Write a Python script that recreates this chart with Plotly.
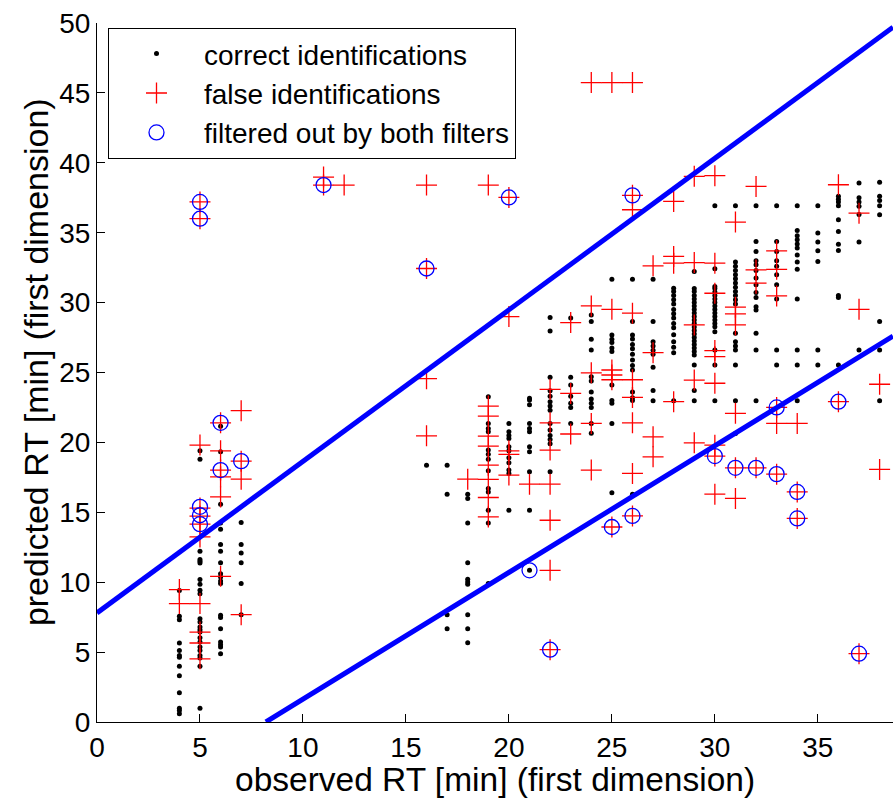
import plotly.graph_objects as go

# ---------------- data ----------------
# correct identifications: observed RT column -> predicted RT values
correct_cols = {
    4: [0.59, 0.82, 0.99, 2.09, 3.31, 3.98, 4.64, 4.76, 5.12, 5.65, 7.32, 7.56, 9.4],
    5: [0.99, 3.98, 4.57, 4.76, 5.12, 5.36, 5.72, 6.03, 6.43, 6.6, 6.79, 7.15, 7.39,
        9.18, 9.42, 9.85, 10.19, 11.38, 11.5, 11.62, 12.21, 18.8, 19.4],
    6: [4.88, 5.36, 5.53, 5.72, 6.67, 7.47, 7.63, 9.91, 10.09, 10.37, 10.61, 11.4,
        12.21, 12.69, 13.79, 14.24, 15.58, 19.33, 21.15],
    7: [7.68, 9.9, 11.4, 12.09, 12.69, 14.27],
    16: [18.37],
    17: [6.67, 7.68, 16.3, 18.37],
    18: [5.67, 6.67, 7.68, 9.85, 10.02, 10.21, 11.4, 14.24, 15.99, 16.3],
    19: [9.9, 14.24, 15.15, 16.46, 16.7, 17.97, 18.8, 19.16, 19.45, 20.76, 21.0, 21.36, 23.27],
    20: [15.15, 17.78, 18.02, 18.54, 18.9, 19.4, 19.69, 20.28, 20.5, 20.76, 21.36],
    21: [10.85, 15.15, 17.9, 19.33, 19.69, 20.76, 21.0, 21.36, 22.7, 23.03, 23.15],
    22: [17.9, 19.9, 20.2, 20.5, 20.88, 21.36, 22.3, 22.6, 22.9, 23.3, 23.7, 24.66, 27.97, 28.93],
    23: [21.36, 22.5, 22.8, 23.3, 24.1, 24.66, 28.9],
    24: [20.65, 21.36, 22.5, 22.8, 23.1, 23.6, 24.4, 24.7, 26.61, 27.38, 28.64, 29.12],
    25: [16.39, 21.36, 22.8, 23.0, 24.1, 26.5, 26.75, 27.14, 27.38, 27.69, 31.67],
    26: [16.3, 23.0, 23.2, 23.6, 25.18, 25.5, 25.9, 26.3, 26.7, 27.0, 27.4, 27.69, 28.64, 31.67],
    27: [22.98, 23.72, 25.37, 26.3, 26.6, 26.9, 27.2, 28.64, 31.67],
    28: [22.98, 26.42, 26.8, 27.2, 27.7, 28.2, 28.5, 28.9, 29.2, 29.5, 29.9, 30.2, 30.5, 30.8, 31.03],
    29: [22.98, 23.72, 25.54, 26.25, 26.5, 26.75, 27.0, 27.25, 27.5, 27.75, 28.0, 28.25, 28.5,
         28.75, 29.0, 29.25, 29.5, 29.75, 30.0, 30.25, 30.5, 30.8, 31.0, 32.22],
    30: [22.98, 25.54, 26.61, 27.92, 28.28, 28.5, 28.75, 29.0, 29.25, 29.5, 29.75, 30.0,
         30.25, 30.5, 30.75, 31.0, 31.15, 32.43, 36.93],
    31: [20.64, 22.98, 25.54, 26.61, 26.9, 27.2, 27.8, 29.9, 30.2, 30.5, 30.8, 31.1, 31.4,
         31.7, 32.0, 32.3, 32.6, 32.9, 36.93],
    32: [22.98, 26.61, 27.81, 29.47, 29.71, 30.36, 30.72, 31.27, 31.76, 32.3, 32.7, 33.0,
         33.65, 34.37, 36.93],
    33: [25.54, 26.61, 30.25, 31.27, 32.0, 32.6, 33.0, 33.65, 34.37, 36.93],
    34: [22.98, 25.54, 26.61, 30.25, 32.38, 32.9, 33.4, 33.9, 34.2, 34.5, 34.78, 35.16, 36.93],
    35: [25.54, 26.61, 32.94, 33.7, 34.33, 34.97, 36.93],
    36: [25.54, 30.36, 30.5, 33.73, 34.18, 35.09, 35.92, 36.93, 37.2, 37.4, 37.6],
    37: [26.61, 34.33, 36.3, 36.9, 37.2, 37.5, 38.55],
    38: [22.98, 26.61, 28.64, 36.28, 36.93, 37.3, 37.6, 38.6],
}

# false identifications
false_cols = {
    4: [8.47, 9.47],
    5: [4.52, 5.65, 6.43, 8.47, 13.24, 14.15, 14.72, 15.3, 19.81, 36.0, 37.2],
    6: [10.42, 16.1, 17.54, 18.02, 19.4, 21.4],
    7: [7.68, 17.37, 18.66, 22.27],
    11: [38.41, 38.98],
    12: [38.41],
    16: [20.47, 24.56, 32.44, 38.41],
    18: [17.37],
    19: [14.67, 16.06, 17.35, 18.37, 19.73, 20.45, 21.88, 22.6, 38.41],
    20: [17.66, 19.15, 19.4, 29.0, 37.52],
    21: [17.01],
    22: [5.17, 10.85, 14.43, 17.01, 19.45, 21.4, 23.8],
    23: [20.6, 23.5, 28.57],
    24: [18.02, 21.36, 24.98, 29.76, 45.74],
    25: [13.95, 24.48, 24.82, 25.18, 29.52, 45.74],
    26: [14.74, 17.78, 21.4, 23.22, 24.48, 29.24, 36.64, 37.67, 45.74],
    27: [18.97, 20.4, 26.42, 32.63],
    28: [22.91, 32.82, 33.3, 37.24],
    29: [19.97, 24.46, 28.4, 32.86, 39.03],
    30: [16.3, 19.02, 19.8, 24.23, 26.13, 26.57, 30.67, 32.82, 39.08],
    31: [15.99, 18.18, 22.08, 28.4, 29.19, 29.67, 35.76],
    32: [18.18, 31.39, 32.34, 38.31],
    33: [17.73, 21.36, 22.5, 30.48, 32.38, 33.7],
    34: [14.56, 16.46, 21.36],
    36: [22.91, 38.43],
    37: [4.89, 29.52, 36.4],
    38: [18.07, 24.16],
}

# filtered out by both filters
filtered_x = [5, 5, 5, 5, 5, 6, 6, 7, 11, 16, 20, 26, 21, 22, 25, 26,
              30, 31, 32, 33, 33, 34, 34, 36, 37]
filtered_y = [37.2, 36.0, 15.39, 14.79, 14.15, 21.4, 18.02, 18.66, 38.41, 32.44, 37.52, 37.67,
              10.85, 5.17, 13.95, 14.74, 19.02, 18.18, 18.18, 17.73, 22.5, 16.46, 14.56, 22.91, 4.89]

# filter boundary lines
upper_line_x = [0, 38.65]
upper_line_y = [7.8, 49.7]
lower_line_x = [8.2, 38.65]
lower_line_y = [0, 27.6]

x_ticks = [0, 5, 10, 15, 20, 25, 30, 35]
y_ticks = [0, 5, 10, 15, 20, 25, 30, 35, 40, 45, 50]

# ---------------- build ----------------
correct_x = [x for x, ys in correct_cols.items() for _ in ys]
correct_y = [y for ys in correct_cols.values() for y in ys]
false_x = [x for x, ys in false_cols.items() for _ in ys]
false_y = [y for ys in false_cols.values() for y in ys]

FONT = "Liberation Sans, Arial, Helvetica, sans-serif"

fig = go.Figure()
fig.add_trace(go.Scatter(
    x=correct_x, y=correct_y, mode="markers", name="correct identifications",
    legendgroup="a",
    marker=dict(symbol="circle", size=5, color="black", line=dict(width=0)),
))
fig.add_trace(go.Scatter(
    x=false_x, y=false_y, mode="markers", name="false identifications",
    legendgroup="b",
    marker=dict(symbol="cross-thin", size=15, color="red", line=dict(width=1.3, color="red")),
))
fig.add_trace(go.Scatter(
    x=filtered_x, y=filtered_y, mode="markers", name="filtered out by both filters",
    legendgroup="c",
    marker=dict(symbol="circle-open", size=15, color="blue", line=dict(width=1.3, color="blue")),
))
fig.add_trace(go.Scatter(
    x=upper_line_x, y=upper_line_y, mode="lines", showlegend=False,
    line=dict(color="#0000FF", width=5),
))
fig.add_trace(go.Scatter(
    x=lower_line_x, y=lower_line_y, mode="lines", showlegend=False,
    line=dict(color="#0000FF", width=5),
))

axis_common = dict(
    showgrid=False, zeroline=False, showline=True, linecolor="black", linewidth=1,
    ticks="inside", ticklen=8, tickwidth=1, tickcolor="black",
    tickfont=dict(family=FONT, size=28, color="black"),
    mirror=False,
)

fig.update_layout(
    width=893, height=798,
    margin=dict(l=97, r=0, t=23, b=76, pad=0),
    paper_bgcolor="white", plot_bgcolor="white",
    font=dict(family=FONT, color="black"),
    showlegend=True,
    legend=dict(
        x=(108 - 97) / 796, y=0.993, xanchor="left", yanchor="top",
        bgcolor="white", bordercolor="black", borderwidth=1,
        font=dict(family=FONT, size=28, color="black"),
        itemwidth=85, tracegroupgap=0,
    ),
    xaxis=dict(range=[0, 38.65], tickvals=x_ticks, ticktext=[str(v) for v in x_ticks],
               **axis_common),
    yaxis=dict(range=[0, 50], tickvals=y_ticks, ticktext=[str(v) for v in y_ticks],
               **axis_common),
    annotations=[
        dict(text="observed RT [min] (first dimension)", xref="paper", yref="paper",
             x=0.5, y=-0.082, xanchor="center", yanchor="middle", showarrow=False,
             font=dict(family=FONT, size=33.5, color="black")),
        dict(text="predicted RT [min] (first dimension)", xref="paper", yref="paper",
             x=-0.0765, y=0.515, xanchor="center", yanchor="middle", showarrow=False,
             textangle=-90, font=dict(family=FONT, size=34, color="black")),
    ],
)

fig.write_html("out.html")
